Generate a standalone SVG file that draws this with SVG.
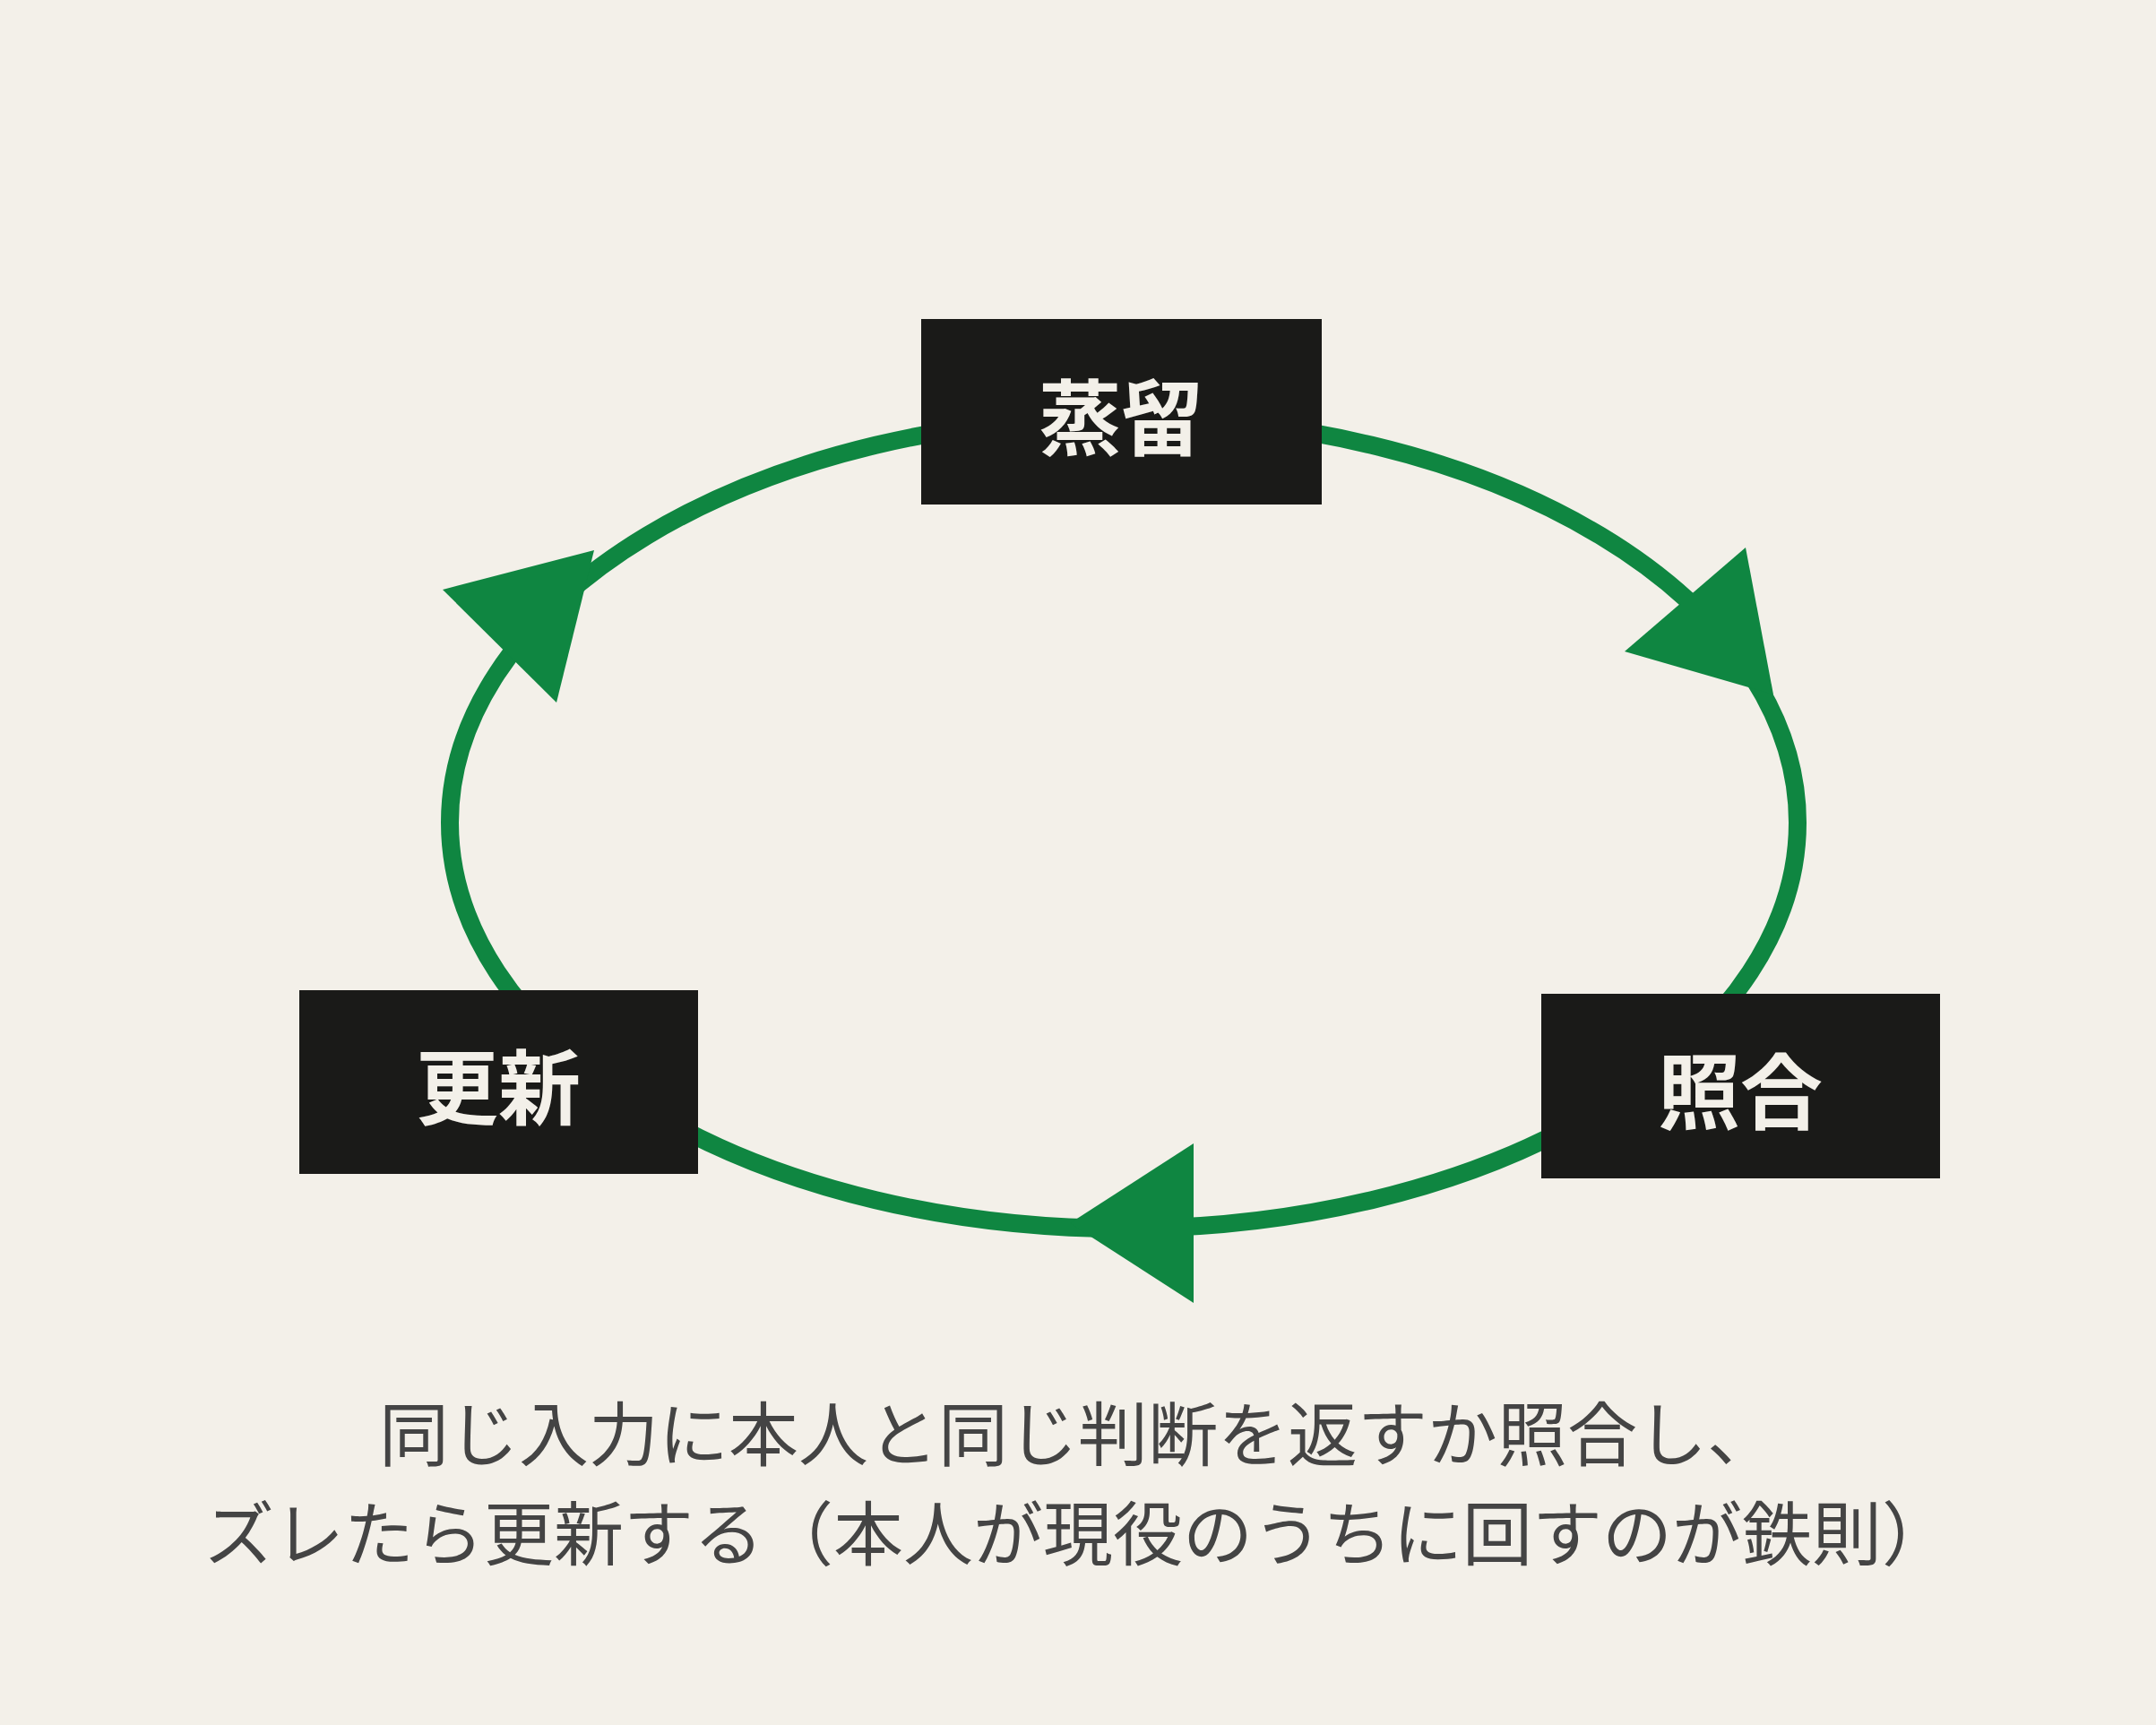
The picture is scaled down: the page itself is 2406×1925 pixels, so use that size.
<svg xmlns="http://www.w3.org/2000/svg" width="2406" height="1925" viewBox="0 0 2406 1925">
<style>
.box{fill:#1a1a18}
.lbl{fill:#f3f0e9;font-family:"Noto Sans CJK JP","Noto Sans CJK SC",sans-serif;font-weight:bold;font-size:92px;text-anchor:middle;dominant-baseline:central}
.cap{fill:#444;font-family:"Noto Sans CJK JP",sans-serif;font-size:78px;text-anchor:middle}
.arr{fill:#0f8641}
</style>
<rect width="2406" height="1925" fill="#f3f0e9"/>
<g id="connectors">
<ellipse cx="1254" cy="918" rx="752" ry="453" fill="none" stroke="#0f8641" stroke-width="20"/>
<polygon class="arr" points="1948,611 1813,727 1979,775"/>
<polygon class="arr" points="1332,1276 1332,1454 1194,1365"/>
<polygon class="arr" points="494,658 663,614 621,784"/>
</g>
<g id="node-distill"><rect class="box" x="1028" y="356" width="447" height="207"/><text class="lbl" x="1251" y="460">蒸留</text></g>
<g id="node-update"><rect class="box" x="334" y="1105" width="445" height="205"/><text class="lbl" x="556" y="1207">更新</text></g>
<g id="node-check"><rect class="box" x="1720" y="1109" width="445" height="206"/><text class="lbl" x="1942" y="1212">照合</text></g>
<g id="caption">
<text class="cap" x="1203" y="1630">同じ入力に本人と同じ判断を返すか照合し、</text>
<text class="cap" x="1203" y="1741">ズレたら更新する（本人が現役のうちに回すのが鉄則）</text>
</g>
</svg>
